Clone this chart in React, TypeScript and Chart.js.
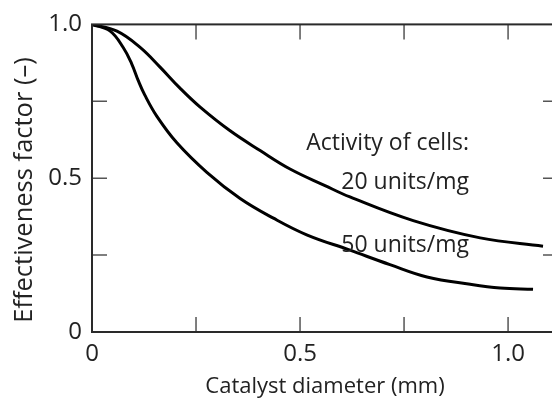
import React, { useEffect, useRef } from 'react';
import { Chart, registerables } from 'chart.js';

Chart.register(...registerables);

// Catalyst diameter (mm) and effectiveness factor (–)
const diameter20 = [0, 0.06, 0.115, 0.163, 0.212, 0.26, 0.332, 0.404, 0.476, 0.56, 0.62, 0.772, 0.933, 1.084];
const effectiveness20 = [1.0, 0.978, 0.926, 0.862, 0.792, 0.731, 0.654, 0.59, 0.53, 0.476, 0.439, 0.362, 0.306, 0.279];
const diameter50 = [0, 0.043, 0.075, 0.0954, 0.111, 0.127, 0.156, 0.204, 0.276, 0.356, 0.436, 0.516, 0.62, 0.716, 0.805, 0.909, 0.981, 1.06];
const effectiveness50 = [1.0, 0.979, 0.925, 0.872, 0.818, 0.77, 0.701, 0.615, 0.519, 0.434, 0.37, 0.316, 0.266, 0.219, 0.179, 0.155, 0.143, 0.139];

const seriesLabels = ['20 units/mg', '50 units/mg'];
const annotationHeader = 'Activity of cells:';
const xTitle = 'Catalyst diameter (mm)';
const yTitle = 'Effectiveness factor (–)';
const tickValues = [0, 0.25, 0.5, 0.75, 1.0];
const tickLabels = ['0', '', '0.5', '', '1.0'];

const FONT = '"Open Sans", sans-serif';
const TEXT = '#222';

const labelFor = (v: number) => {
  const i = tickValues.findIndex((t) => Math.abs(t - v) < 1e-6);
  return i >= 0 ? tickLabels[i] : '';
};

const decorPlugin = {
  id: 'decor',
  afterDraw(chart: any) {
    const { ctx, chartArea: a, scales } = chart;
    const x = scales.x;
    const y = scales.y;
    ctx.save();
    // inward tick marks
    ctx.strokeStyle = '#555';
    ctx.lineWidth = 1.5;
    const T = 15;
    ctx.beginPath();
    tickValues.forEach((v) => {
      if (v === 0) return;
      const px = x.getPixelForValue(v);
      ctx.moveTo(px, a.bottom);
      ctx.lineTo(px, a.bottom - T);
      ctx.moveTo(px, a.top);
      ctx.lineTo(px, a.top + T);
    });
    tickValues.forEach((v) => {
      if (v === 0 || v === 1) return;
      const py = y.getPixelForValue(v);
      ctx.moveTo(a.left, py);
      ctx.lineTo(a.left + T, py);
      ctx.moveTo(a.right, py);
      ctx.lineTo(a.right - T, py);
    });
    ctx.stroke();
    // frame
    ctx.strokeStyle = '#2a2a2a';
    ctx.lineWidth = 2;
    ctx.strokeRect(a.left, a.top, a.right - a.left, a.bottom - a.top);

    // annotations (right aligned)
    ctx.fillStyle = TEXT;
    ctx.textAlign = 'right';
    ctx.textBaseline = 'alphabetic';
    ctx.font = `23px ${FONT}`;
    const ax = x.getPixelForValue(0.906);
    ctx.fillText(annotationHeader, ax, y.getPixelForValue(0.593));
    ctx.fillText(seriesLabels[0], ax, y.getPixelForValue(0.465));
    ctx.fillText(seriesLabels[1], ax, y.getPixelForValue(0.26));

    // x title
    ctx.textAlign = 'center';
    ctx.font = `22px ${FONT}`;
    ctx.fillText(xTitle, (a.left + a.right) / 2, 393);

    // y title
    ctx.font = `25.5px ${FONT}`;
    ctx.translate(32, 190);
    ctx.rotate(-Math.PI / 2);
    ctx.fillText(yTitle, 0, 0);
    ctx.restore();
  },
};

const setTicks = (s: any) => {
  s.ticks = tickValues.map((v) => ({ value: v }));
};

export default function App() {
  const ref = useRef<HTMLCanvasElement | null>(null);

  useEffect(() => {
    if (!ref.current) return;
    const chart = new Chart(ref.current, {
      type: 'line',
      data: {
        datasets: [
          {
            label: seriesLabels[0],
            data: diameter20.map((d, i) => ({ x: d, y: effectiveness20[i] })),
            borderColor: '#000',
            borderWidth: 3,
            pointRadius: 0,
            tension: 0.4,
            fill: false,
          },
          {
            label: seriesLabels[1],
            data: diameter50.map((d, i) => ({ x: d, y: effectiveness50[i] })),
            borderColor: '#000',
            borderWidth: 3,
            pointRadius: 0,
            tension: 0.4,
            fill: false,
          },
        ],
      },
      options: {
        responsive: false,
        animation: false,
        devicePixelRatio: 1,
        layout: { padding: { top: 20, right: 8, left: 0, bottom: 0 } },
        plugins: { legend: { display: false }, tooltip: { enabled: false } },
        scales: {
          x: {
            type: 'linear',
            min: 0,
            max: 1.12,
            afterFit: (s: any) => {
              s.height = 66;
            },
            afterBuildTicks: setTicks,
            grid: { display: false, drawTicks: false },
            border: { display: false },
            ticks: {
              autoSkip: false,
              maxRotation: 0,
              padding: 8,
              color: TEXT,
              font: { family: FONT, size: 24 },
              callback: (v: any) => labelFor(Number(v)),
            },
          },
          y: {
            type: 'linear',
            min: 0,
            max: 1,
            afterFit: (s: any) => {
              s.width = 92;
            },
            afterBuildTicks: setTicks,
            grid: { display: false, drawTicks: false },
            border: { display: false },
            ticks: {
              autoSkip: false,
              padding: 10,
              color: TEXT,
              font: { family: FONT, size: 24 },
              callback: (v: any) => labelFor(Number(v)),
            },
          },
        },
      },
      plugins: [decorPlugin],
    } as any);
    return () => chart.destroy();
  }, []);

  return (
    <div
      style={{
        position: 'fixed',
        left: 0,
        top: 0,
        width: 552,
        height: 398,
        overflow: 'hidden',
        background: '#fff',
      }}
    >
      <canvas ref={ref} width={566} height={398} style={{ display: 'block', width: 566, height: 398 }} />
    </div>
  );
}
